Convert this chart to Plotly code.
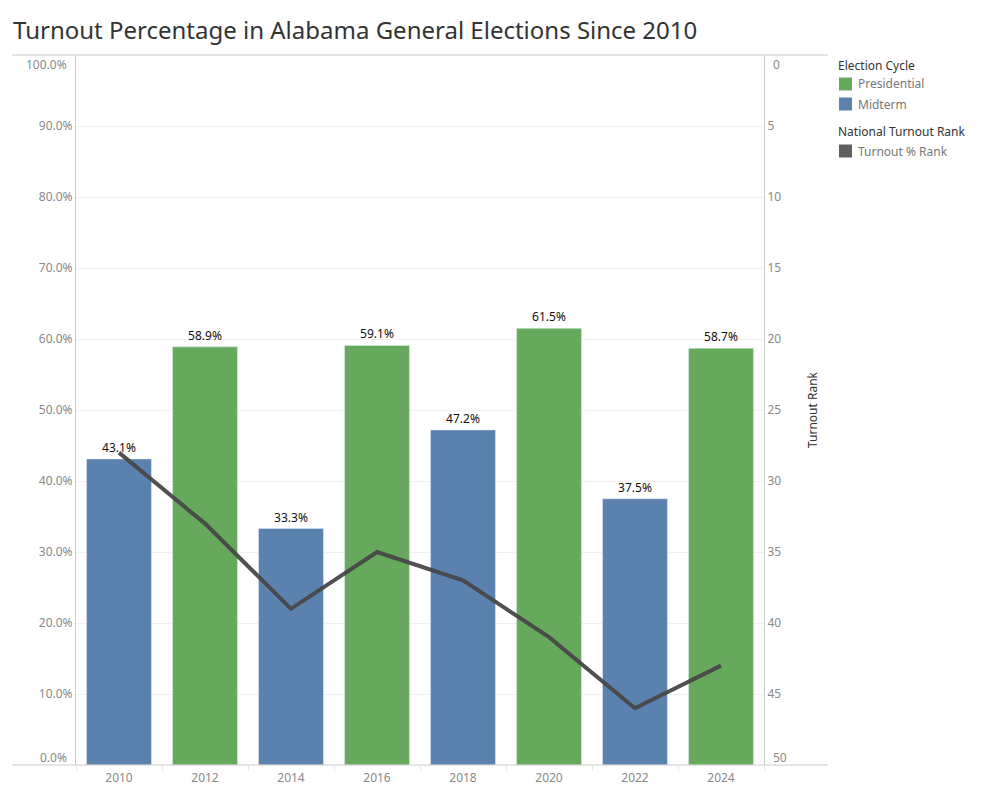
import plotly.graph_objects as go

# Datos
years = ["2010", "2012", "2014", "2016", "2018", "2020", "2022", "2024"]
cycle = ["Midterm", "Presidential", "Midterm", "Presidential",
         "Midterm", "Presidential", "Midterm", "Presidential"]
turnout_pct = [43.1, 58.9, 33.3, 59.1, 47.2, 61.5, 37.5, 58.7]
turnout_rank = [28, 33, 39, 35, 37, 41, 46, 43]

pct_ticks = [10, 20, 30, 40, 50, 60, 70, 80, 90]
rank_ticks = [5, 10, 15, 20, 25, 30, 35, 40, 45]

colores = {"Presidential": "#66a95c", "Midterm": "#5b81ae"}
color_linea = "#484848"
fuente = "Noto Sans"
gris_texto = "#8a8a8a"
gris_linea = "#cccccc"

W, H = 999, 799
L, R, T, B = 76, 764, 55, 765


def px_x(p):
    return (p - L) / (R - L)


def px_y(p):
    return (B - p) / (B - T)


fig = go.Figure()

# Barras por ciclo electoral
for c in ["Presidential", "Midterm"]:
    xs = [y for y, cc in zip(years, cycle) if cc == c]
    vs = [v for v, cc in zip(turnout_pct, cycle) if cc == c]
    fig.add_trace(go.Bar(
        x=xs, y=vs, name=c, marker_color=colores[c], width=0.755,
        text=[f"{v:.1f}%" for v in vs], textposition="outside",
        textfont=dict(color="#111111", size=12, family=fuente),
        cliponaxis=False, showlegend=False,
        hovertemplate="Año: %{x}<br>Turnout: %{y:.1f}%<extra></extra>",
    ))

# Linea del ranking nacional
fig.add_trace(go.Scatter(
    x=years, y=turnout_rank, yaxis="y2", mode="lines", name="Turnout % Rank",
    line=dict(color=color_linea, width=4), opacity=0.95, showlegend=False,
    hovertemplate="Año: %{x}<br>Rank: %{y}<extra></extra>",
))

fig.update_layout(
    width=W, height=H,
    margin=dict(l=L, r=W - R, t=T, b=H - B),
    plot_bgcolor="white", paper_bgcolor="white",
    barmode="overlay",
    font=dict(family=fuente, size=12, color=gris_texto),
    title=dict(
        text="Turnout Percentage in Alabama General Elections Since 2010",
        x=13 / W, xref="container", xanchor="left",
        y=1 - 31 / H, yref="container", yanchor="middle",
        font=dict(family=fuente, size=24, color="#333333"),
    ),
    xaxis=dict(
        type="category", categoryorder="array", categoryarray=years,
        showgrid=False, tickson="boundaries",
        ticks="outside", ticklen=5, tickcolor="#e4e4e4",
        ticklabelstandoff=4,
        tickfont=dict(size=12, color=gris_texto),
        showline=False, zeroline=False,
    ),
    yaxis=dict(
        range=[0, 100], tickvals=pct_ticks, ticktext=[f"{v:.1f}%" for v in pct_ticks],
        showgrid=True, gridcolor="#f0f0f0", gridwidth=1,
        showline=True, linecolor=gris_linea, zeroline=False,
        ticks="", tickfont=dict(size=12, color=gris_texto),
    ),
    yaxis2=dict(
        overlaying="y", side="right", range=[50, 0], tickvals=rank_ticks,
        showgrid=False, showline=True, linecolor=gris_linea, zeroline=False,
        ticks="", tickfont=dict(size=12, color=gris_texto),
        title=dict(text="Turnout Rank", font=dict(size=12, color="#333333"), standoff=28),
    ),
    hovermode="closest",
)

# Lineas de borde superior e inferior, extendidas como en el original
for yp in [T, B]:
    fig.add_shape(type="line", xref="paper", yref="paper",
                  x0=px_x(12), x1=px_x(828), y0=px_y(yp), y1=px_y(yp),
                  line=dict(color=gris_linea, width=1))

# Etiquetas extremas desplazadas hacia dentro (estilo Tableau)
for val, txt, shift in [(0, "0.0%", 8), (100, "100.0%", -9)]:
    fig.add_annotation(x=0, xref="paper", xanchor="right", xshift=-7,
                       y=val, yref="y", yshift=shift, text=txt, showarrow=False,
                       font=dict(size=12, color=gris_texto))
for val, shift in [(0, -9), (50, 8)]:
    fig.add_annotation(x=1, xref="paper", xanchor="left", xshift=7,
                       y=val, yref="y2", yshift=shift, text=str(val), showarrow=False,
                       font=dict(size=12, color=gris_texto))

# Leyenda manual
leyenda = [
    ("titulo", "Election Cycle", None, 66),
    ("item", "Presidential", colores["Presidential"], 84),
    ("item", "Midterm", colores["Midterm"], 104),
    ("titulo", "National Turnout Rank", None, 132),
    ("item", "Turnout % Rank", "#5f5f5f", 151),
]
for tipo, txt, col, yc in leyenda:
    if tipo == "titulo":
        fig.add_annotation(x=px_x(836), xref="paper", xanchor="left",
                           y=px_y(yc), yref="paper", yanchor="middle",
                           text=txt, showarrow=False,
                           font=dict(size=12, color="#333333"))
    else:
        fig.add_shape(type="rect", xref="paper", yref="paper",
                      x0=px_x(839), x1=px_x(852), y0=px_y(yc + 6.5), y1=px_y(yc - 6.5),
                      fillcolor=col, line=dict(width=0))
        fig.add_annotation(x=px_x(856), xref="paper", xanchor="left",
                           y=px_y(yc), yref="paper", yanchor="middle",
                           text=txt, showarrow=False,
                           font=dict(size=12, color="#777777"))

fig.write_html("out.html", config={"displayModeBar": False},
               post_script="document.body.style.margin='0';")
